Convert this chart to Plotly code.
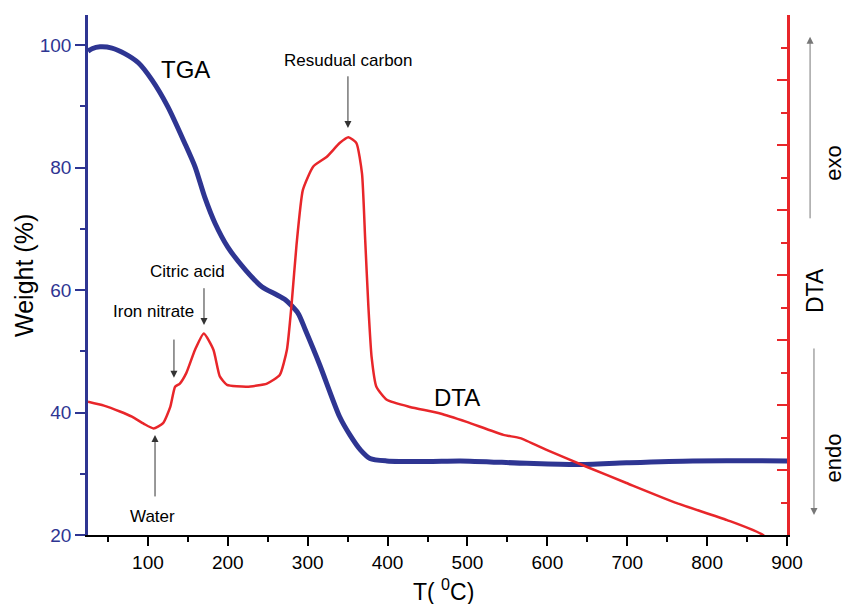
import plotly.graph_objects as go

# ---- data ----
t_tga = [25, 30, 40, 55, 71, 88, 105, 125, 146, 159, 171, 184, 200, 222, 243, 260, 272, 288, 297,
         315, 340, 353, 366, 378, 399, 450, 491, 574, 637, 699, 782, 900]
w_tga = [99.0, 99.4, 99.7, 99.5, 98.6, 97.1, 94.3, 89.9, 84.0, 80.1, 75.2, 70.9, 67.0, 63.3, 60.5,
         59.3, 58.4, 56.2, 53.5, 47.8, 39.3, 36.3, 33.9, 32.5, 32.1, 32.0, 32.1, 31.7, 31.5, 31.8, 32.1, 32.1]

t_dta = [25, 45, 65, 80, 95, 107, 119, 128, 134, 140, 148, 159, 170, 182, 190, 199, 224, 249, 265, 274,
         280, 286, 294, 307, 324, 340, 351, 361, 368, 372, 376, 380, 386, 399, 428, 466, 499,
         545, 566, 599, 649, 699, 762, 825, 870, 900]
dta = [2.05, 1.99, 1.90, 1.82, 1.71, 1.64, 1.72, 1.97, 2.28, 2.33, 2.49, 2.85, 3.10, 2.85, 2.44, 2.31, 2.28,
       2.33, 2.46, 2.85, 3.57, 4.46, 5.31, 5.67, 5.82, 6.03, 6.12, 6.03, 5.56, 4.54, 3.51, 2.74,
       2.28, 2.08, 1.97, 1.87, 1.74, 1.54, 1.49, 1.31, 1.05, 0.80, 0.49, 0.23, 0.0, -0.45]

x_ticks = [100, 200, 300, 400, 500, 600, 700, 800, 900]
y_ticks = [20, 40, 60, 80, 100]

BLUE = "#2e3592"
RED = "#e8262a"
FONT = "Arial, Liberation Sans, sans-serif"

fig = go.Figure()
fig.add_trace(go.Scatter(x=t_tga, y=w_tga, mode="lines", xaxis="x", yaxis="y",
                         line=dict(color=BLUE, width=5, shape="spline", smoothing=0.7),
                         showlegend=False, hoverinfo="skip"))
fig.add_trace(go.Scatter(x=t_dta, y=dta, mode="lines", xaxis="x", yaxis="y2",
                         line=dict(color=RED, width=2.5, shape="spline", smoothing=0.5),
                         showlegend=False, hoverinfo="skip"))

fig.update_layout(
    width=846, height=604,
    margin=dict(l=88, r=59, t=15, b=69),
    paper_bgcolor="white", plot_bgcolor="white",
    font=dict(family=FONT, size=19, color="black"),
    xaxis=dict(range=[25, 900], tickvals=x_ticks, ticks="outside", ticklen=9, tickwidth=1.5,
               tickcolor="black", showline=True, linecolor="black", linewidth=2,
               showgrid=False, zeroline=False, tickfont=dict(size=19, color="black"),
               minor=dict(dtick=50, tick0=0, ticks="outside", ticklen=5, tickcolor="black", showgrid=False)),
    xaxis2=dict(range=[25, 900], overlaying="x", side="top", tickvals=x_ticks, ticks="inside",
                ticklen=9, tickwidth=1.5, tickcolor="black", showline=True, linecolor="black",
                linewidth=2, showticklabels=False, showgrid=False, zeroline=False,
                minor=dict(dtick=50, tick0=0, ticks="inside", ticklen=5, tickcolor="black", showgrid=False)),
    yaxis=dict(range=[20, 104.9], tickvals=y_ticks, ticks="outside", ticklen=10, tickwidth=1.5,
               tickcolor=BLUE, showline=True, linecolor=BLUE, linewidth=2.5,
               showgrid=False, zeroline=False, tickfont=dict(size=19, color=BLUE),
               minor=dict(dtick=10, tick0=0, ticks="outside", ticklen=5, tickcolor=BLUE, showgrid=False)),
    yaxis2=dict(range=[0, 8], overlaying="y", side="right", dtick=1, tick0=0, ticks="inside",
                ticklen=10, tickwidth=1.5, tickcolor=RED, showline=True, linecolor=RED,
                linewidth=2.5, showticklabels=False, showgrid=False, zeroline=False,
                minor=dict(dtick=0.5, tick0=0, ticks="inside", ticklen=6, tickcolor=RED, showgrid=False)),
)

ann = []
def text(s, x, y, size, angle=0):
    ann.append(dict(text=s, x=x, y=y, xref="paper", yref="paper", showarrow=False,
                    font=dict(family=FONT, size=size, color="black"), textangle=angle,
                    xanchor="center", yanchor="middle"))

text("TGA", 0.140, 0.896, 24)
text("DTA", 0.528, 0.265, 24)
text("Resudual carbon", 0.372, 0.912, 17)
text("Citric acid", 0.143, 0.506, 17)
text("Iron nitrate", 0.0937, 0.429, 17)
text("Water", 0.0916, 0.0365, 17)
text("Weight (%)", -0.0916, 0.5, 25, -90)
text("T( <sup>0</sup>C)", 0.508, -0.106, 23)
text("DTA", 1.040, 0.471, 23, -90)
text("exo", 1.0665, 0.715, 22, -90)
text("endo", 1.0665, 0.148, 22, -90)

def arrow_data(x, yh, yt, color="#333"):
    ann.append(dict(x=x, y=yh, ax=x, ay=yt, xref="x", yref="y2", axref="x", ayref="y2",
                    text="", showarrow=True, arrowhead=2, arrowsize=1.4, arrowwidth=1,
                    arrowcolor=color, standoff=0))

def arrow_paper(x, yh, dy_px, color="#777"):
    ann.append(dict(x=x, y=yh, ax=0, ay=dy_px, xref="paper", yref="paper", axref="pixel",
                    ayref="pixel", text="", showarrow=True, arrowhead=2, arrowsize=1.4,
                    arrowwidth=1, arrowcolor=color, standoff=0))

arrow_data(350.4, 6.26, 7.08)
arrow_data(170.2, 3.23, 3.82)
arrow_data(132.6, 2.42, 3.03)
arrow_data(108.9, 1.54, 0.57)
arrow_paper(1.033, 0.958, 183)
arrow_paper(1.0386, 0.0385, -168)

fig.update_layout(annotations=ann)
fig.write_html("out.html", config={"displayModeBar": False},
               post_script="document.body.style.margin='0';document.body.style.overflow='hidden';")
